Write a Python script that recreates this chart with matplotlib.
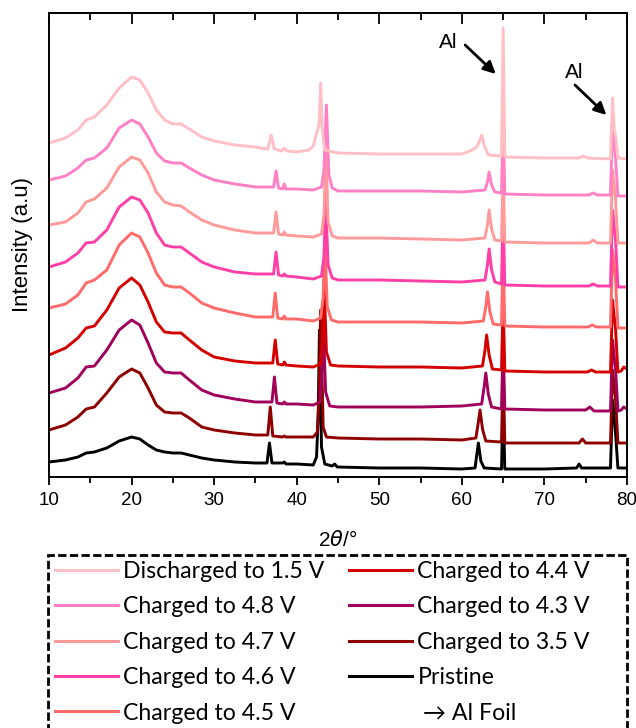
import matplotlib
matplotlib.use("Agg")
import matplotlib.pyplot as plt
from matplotlib.lines import Line2D
from matplotlib.patches import Rectangle
from matplotlib.ticker import MultipleLocator

plt.rcParams['font.family'] = ['Liberation Sans', 'DejaVu Sans']
plt.rcParams['mathtext.fontset'] = 'dejavusans'

# shared 2theta grid for the broad low-angle hump
broad_x = [10, 12, 13.5, 14.5, 15.5, 17, 18.5, 20, 21, 22, 23, 24, 25, 26, 27, 28.5, 30, 32.5, 35]

# Discharged to 1.5 V
dis15_hump = [334, 339, 347, 357, 360, 372, 389, 400, 397, 384, 367, 357, 353, 353, 348, 340, 336, 332, 330]
dis15_x = [36.5, 36.9, 37.3, 38.2, 38.5, 38.8, 40, 41.5, 42.0, 42.4, 42.7, 42.9, 43.1, 43.4, 45, 50, 55, 60,
           61.3, 61.8, 62.1, 62.4, 62.7, 63.2, 64.8, 65.0, 65.2, 70, 74.2, 74.7, 75.2, 78.0, 78.25, 78.45, 78.6, 78.9, 80]
dis15_y = [328, 342, 328, 326, 329, 326, 325, 327, 331, 344, 352, 394, 347, 327, 324, 323, 323, 323,
           327, 330, 335, 342, 332, 322, 321, 449, 320, 319, 319, 321, 319, 318, 379, 347, 342, 319, 318]

# Charged to 4.8 V
c48_hump = [297, 301, 309, 317, 319, 329, 349, 357, 353, 340, 324, 316, 314, 314, 309, 302, 297, 293, 290]
c48_x = [37.2, 37.5, 37.8, 38.3, 38.5, 38.7, 40, 42, 43.0, 43.3, 43.6, 43.9, 44.3, 45, 50, 55, 60,
         62.8, 63.1, 63.3, 63.6, 64.0, 64.8, 65.0, 65.2, 70, 75.4, 75.9, 76.4, 78.0, 78.25, 78.45, 78.6, 78.9, 80]
c48_y = [290, 306, 289, 288, 293, 288, 288, 287, 290, 307, 372, 302, 289, 286, 286, 286, 285,
         287, 295, 305, 292, 285, 284, 357, 283, 282, 282, 284, 282, 282, 357, 330, 320, 281, 281]

# Charged to 4.7 V
c47_hump = [252, 255, 264, 275, 278, 289, 310, 320, 317, 304, 285, 275, 272, 271, 265, 257, 252, 247, 244]
c47_x = [37.2, 37.5, 37.8, 38.3, 38.5, 38.7, 40, 42, 43.0, 43.3, 43.55, 43.8, 44.3, 45, 50, 55, 60,
         62.8, 63.1, 63.3, 63.6, 64.0, 64.8, 65.0, 65.2, 70, 75.4, 75.9, 76.4, 78.0, 78.25, 78.45, 78.6, 78.9, 80]
c47_y = [244, 265, 243, 242, 245, 242, 241, 240, 243, 262, 327, 255, 241, 239, 239, 238, 237,
         239, 252, 267, 248, 237, 236, 307, 235, 234, 234, 237, 234, 234, 307, 290, 280, 234, 234]

# Charged to 4.6 V
c46_hump = [210, 215, 224, 234, 235, 247, 270, 280, 277, 264, 244, 232, 230, 230, 224, 215, 210, 205, 203]
c46_x = [37.2, 37.5, 37.8, 38.3, 38.5, 38.7, 40, 42, 43.0, 43.3, 43.5, 43.8, 44.3, 45, 50, 55, 60,
         62.8, 63.1, 63.3, 63.6, 64.0, 64.8, 65.0, 65.2, 70, 75.4, 75.9, 76.4, 78.0, 78.25, 78.45, 78.6, 78.9, 80]
c46_y = [203, 225, 202, 201, 203, 201, 200, 198, 201, 220, 277, 212, 199, 197, 197, 196, 195,
         197, 212, 228, 207, 195, 193, 267, 192, 191, 191, 193, 191, 191, 267, 250, 240, 190, 190]

# Charged to 4.5 V
c45_hump = [169, 173, 182, 194, 197, 207, 232, 244, 240, 224, 204, 192, 190, 190, 184, 174, 169, 164, 160]
c45_x = [37.1, 37.4, 37.7, 38.3, 38.5, 38.7, 40, 42, 42.9, 43.2, 43.4, 43.7, 44.2, 45, 50, 55, 60,
         62.6, 62.9, 63.1, 63.4, 63.8, 64.8, 65.0, 65.2, 70, 75.3, 75.8, 76.3, 78.0, 78.25, 78.45, 78.6, 78.9, 80]
c45_y = [160, 184, 159, 158, 161, 158, 158, 156, 159, 180, 237, 170, 157, 155, 155, 155, 154,
         156, 170, 185, 165, 153, 152, 227, 151, 150, 150, 152, 150, 150, 227, 210, 200, 149, 149]

# Charged to 4.4 V
c44_hump = [122, 129, 139, 149, 151, 167, 189, 199, 192, 175, 155, 145, 144, 144, 137, 127, 120, 116, 114]
c44_x = [37.1, 37.4, 37.7, 38.3, 38.5, 38.7, 40, 42, 42.9, 43.1, 43.3, 43.6, 44.1, 45, 50, 55, 60,
         62.5, 62.8, 63.0, 63.3, 63.7, 64.8, 65.0, 65.2, 70, 75.2, 75.7, 76.2, 78.0, 78.25, 78.45, 78.6, 78.9,
         79.3, 79.6, 80]
c44_y = [114, 137, 113, 112, 115, 112, 111, 110, 113, 135, 197, 125, 112, 111, 110, 110, 109,
         111, 127, 142, 122, 108, 107, 177, 106, 105, 105, 107, 105, 105, 177, 160, 150, 105,
         106, 110, 108]

# Charged to 4.3 V
c43_hump = [84, 89, 99, 110, 111, 127, 147, 157, 152, 134, 114, 105, 104, 104, 97, 87, 82, 78, 75]
c43_x = [37.0, 37.3, 37.6, 38.3, 38.5, 38.7, 40, 42, 42.8, 43.0, 43.2, 43.5, 44.0, 45, 50, 55, 60,
         62.4, 62.7, 62.9, 63.2, 63.6, 64.8, 65.0, 65.2, 70, 75.0, 75.5, 76.0, 78.0, 78.25, 78.45, 78.6, 78.9,
         79.3, 79.6, 80]
c43_y = [75, 100, 74, 73, 75, 73, 73, 72, 75, 95, 157, 85, 71, 70, 70, 70, 71,
         73, 90, 104, 83, 70, 68, 137, 68, 67, 67, 70, 66, 66, 137, 120, 110, 66,
         67, 70, 68]

# Charged to 3.5 V
c35_hump = [47, 52, 60, 68, 70, 84, 100, 108, 104, 89, 72, 65, 64, 64, 59, 50, 47, 44, 42]
c35_x = [36.5, 36.8, 37.1, 38.3, 38.5, 38.7, 40, 42, 42.5, 42.7, 42.9, 43.2, 43.6, 45, 50, 55, 60,
         61.7, 62.0, 62.2, 62.5, 62.9, 64.8, 65.0, 65.2, 70, 74.2, 74.6, 75.0, 78.0, 78.25, 78.45, 78.6, 78.9, 80]
c35_y = [42, 70, 41, 40, 41, 40, 40, 40, 45, 80, 167, 50, 40, 39, 38, 38, 37,
         39, 55, 67, 48, 36, 35, 107, 34, 34, 34, 38, 34, 34, 107, 90, 80, 34, 34]

# Pristine
pr_hump = [15, 17, 20, 24, 25, 29, 36, 40, 38, 32, 27, 25, 24, 24, 22, 19, 17, 15, 14]
pr_x = [36.4, 36.7, 37.0, 38.3, 38.5, 38.7, 40, 42, 42.4, 42.6, 42.75, 43.0, 43.4, 44.3, 44.6, 44.9, 50, 55, 60,
        61.6, 61.85, 62.0, 62.3, 62.7, 64.8, 65.0, 65.2, 70, 73.9, 74.2, 74.5, 78.0, 78.25, 78.45, 78.6, 78.9, 80]
pr_y = [14, 34, 14, 14, 15, 13, 13, 12, 20, 60, 147, 30, 13, 11, 13, 10, 9, 9, 8,
        9, 25, 34, 16, 9, 8, 77, 8, 8, 9, 13, 9, 9, 77, 60, 45, 9, 9]

labels = ['Discharged to 1.5 V', 'Charged to 4.8 V', 'Charged to 4.7 V', 'Charged to 4.6 V',
          'Charged to 4.5 V', 'Charged to 4.4 V', 'Charged to 4.3 V', 'Charged to 3.5 V', 'Pristine']
colors = ['#FFBFC4', '#FF80C4', '#FF9A9A', '#FF3FA8', '#FF6A6A', '#D40000', '#A0005A', '#8E0000', 'black']
humps = [dis15_hump, c48_hump, c47_hump, c46_hump, c45_hump, c44_hump, c43_hump, c35_hump, pr_hump]
tails_x = [dis15_x, c48_x, c47_x, c46_x, c45_x, c44_x, c43_x, c35_x, pr_x]
tails_y = [dis15_y, c48_y, c47_y, c46_y, c45_y, c44_y, c43_y, c35_y, pr_y]

fig = plt.figure(figsize=(6.36, 7.28), dpi=100)
ax = fig.add_axes([49 / 636, 1 - 477 / 728, 578 / 636, 464 / 728])

# bottom trace first so the upper ones sit on top
for i in reversed(range(len(labels))):
    x = broad_x + tails_x[i]
    y = humps[i] + tails_y[i]
    ax.plot(x, y, color=colors[i], lw=2.1)

ax.set_xlim(10, 80)
ax.set_ylim(0, 464)
ax.set_yticks([])
ax.xaxis.set_major_locator(MultipleLocator(10))
ax.xaxis.set_minor_locator(MultipleLocator(5))
ax.tick_params(axis='x', which='major', direction='out', length=6, width=1.3, labelsize=13.5, pad=5)
ax.tick_params(axis='x', which='minor', direction='out', length=4, width=1.3)
for s in ax.spines.values():
    s.set_linewidth(1.4)

top = ax.secondary_xaxis('top')
top.xaxis.set_major_locator(MultipleLocator(10))
top.xaxis.set_minor_locator(MultipleLocator(5))
top.tick_params(axis='x', which='major', direction='in', length=8, width=1.3, labeltop=False)
top.tick_params(axis='x', which='minor', direction='in', length=5, width=1.3)
top.spines['top'].set_linewidth(1.4)

ax.set_xlabel(r'2$\theta$/°', fontsize=15)
ax.xaxis.set_label_coords(0.5, -0.115)
ax.set_ylabel('Intensity (a.u)', fontsize=16)
ax.yaxis.set_label_coords(-0.028, 0.5)

# Al foil reflections
ax.text(58.4, 434, 'Al', fontsize=15, ha='center', va='center')
ax.annotate('', xy=(64.1, 403), xytext=(60.4, 432),
            arrowprops=dict(arrowstyle='-|>', color='black', lw=2, mutation_scale=18, shrinkA=0, shrinkB=0))
ax.text(73.6, 405, 'Al', fontsize=15, ha='center', va='center')
ax.annotate('', xy=(77.5, 362), xytext=(73.7, 392),
            arrowprops=dict(arrowstyle='-|>', color='black', lw=2, mutation_scale=18, shrinkA=0, shrinkB=0))

handles = [Line2D([], [], color=c, lw=2.2) for c in colors]
handles.append(Line2D([], [], color='none'))
leg_labels = labels + [' \u2192 Al Foil']
fig.legend(handles, leg_labels, loc='upper left', bbox_to_anchor=(55 / 636, 1 - 561 / 728), ncol=2,
           frameon=False, borderpad=0, borderaxespad=0, handlelength=2.7, handletextpad=0.25,
           columnspacing=1.05, labelspacing=0.62, prop={'family': ['Lato', 'DejaVu Sans'], 'size': 16.7})

box = Rectangle((48 / 636, -0.02), 579 / 636, 1 - 555 / 728 + 0.02, transform=fig.transFigure,
                fill=False, ec='black', lw=2, ls=(0, (3, 1.2)))
fig.add_artist(box)

fig.savefig('out.png', dpi=100)
